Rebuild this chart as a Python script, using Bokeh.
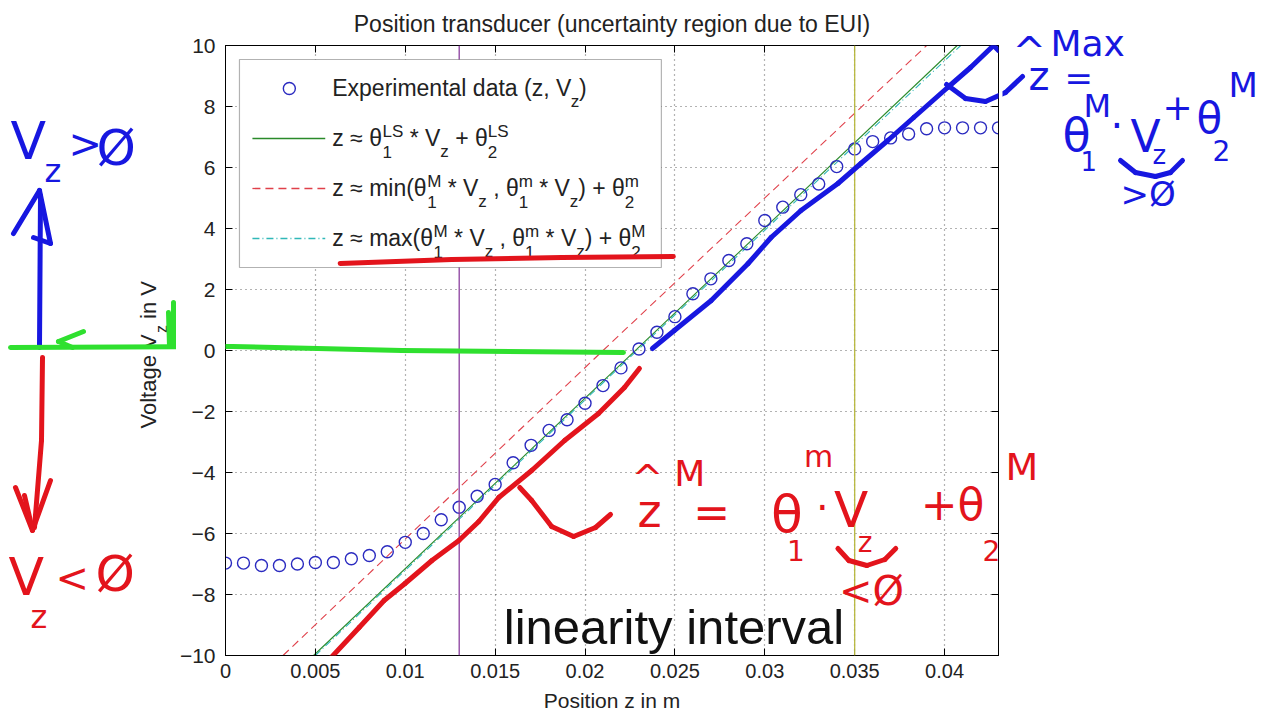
import math
from bokeh.plotting import figure
from bokeh.layouts import row
from bokeh.models import (Range1d, FixedTicker, LinearAxis, Label, Span, BoxAnnotation,
                          Arrow, ColumnDataSource, PrintfTickFormatter, CustomJSTickFormatter)
from bokeh.embed import file_html
from bokeh.resources import INLINE

# ---------------- data ----------------
z_m = [0.000, 0.001, 0.002, 0.003, 0.004, 0.005, 0.006, 0.007, 0.008, 0.009,
       0.010, 0.011, 0.012, 0.013, 0.014, 0.015, 0.016, 0.017, 0.018, 0.019,
       0.020, 0.021, 0.022, 0.023, 0.024, 0.025, 0.026, 0.027, 0.028, 0.029,
       0.030, 0.031, 0.032, 0.033, 0.034, 0.035, 0.036, 0.037, 0.038, 0.039,
       0.040, 0.041, 0.042, 0.043]
v_z = [-6.97, -6.97, -7.05, -7.05, -7.00, -6.95, -6.95, -6.83, -6.72, -6.60,
       -6.29, -6.00, -5.55, -5.14, -4.78, -4.39, -3.68, -3.11, -2.62, -2.27,
       -1.73, -1.15, -0.57, 0.05, 0.60, 1.11, 1.86, 2.35, 2.95, 3.50,
       4.26, 4.70, 5.11, 5.46, 6.03, 6.61, 6.85, 6.97, 7.10, 7.27,
       7.30, 7.30, 7.30, 7.30]

ls_fit_v = [-10, 10]
ls_fit_z = [0.0049, 0.0407]
min_fit_v = [-10, 0, 10]
min_fit_z = [0.0032, 0.0210, 0.0390]
max_fit_v = [-10, 0, 10]
max_fit_z = [0.0050, 0.0229, 0.0409]
interval_z = [0.013, 0.035]

x_ticks = [0, 0.005, 0.01, 0.015, 0.02, 0.025, 0.03, 0.035, 0.04]
y_ticks = [-10, -8, -6, -4, -2, 0, 2, 4, 6, 8, 10]

title_text = "Position transducer (uncertainty region due to EUI)"
x_label_text = "Position z in m"

# ---------------- layout ----------------
H = 716
LEFT_W = 176                 # left annotation panel: page x 0..176
MAIN_X0 = LEFT_W             # main figure starts here
PL, PR, PT, PB = 223, 998, 45, 655      # frame edges in page px
RIGHT_X0 = 1002
MAIN_W = RIGHT_X0 - MAIN_X0
RIGHT_W = 264
XMIN, XMAX, YMIN, YMAX = 0.0, 0.043, -10.0, 10.0
BASE_SHIFT = 0.37            # label baseline correction (fraction of font size)


def X(px):
    return XMIN + (px - PL) / (PR - PL) * (XMAX - XMIN)


def Y(py):
    return YMAX - (py - PT) / (PB - PT) * (YMAX - YMIN)


def ident(v):
    return v


def no_align(f):
    try:
        f.frame_align = False
    except Exception:
        pass


FONT = "Liberation Sans"
HAND = "DejaVu Sans"
CW = {' ': .278, '(': .333, ')': .333, '*': .389, '+': .584, ',': .278, '.': .278,
      'E': .667, 'L': .556, 'M': .833, 'S': .667, 'V': .667, 'a': .556, 'd': .556,
      'e': .556, 'i': .222, 'l': .222, 'm': .833, 'n': .556, 'p': .556, 'r': .333,
      't': .278, 'x': .5, 'z': .5, 'θ': .556, '≈': .584, 'g': .556, 'o': .556,
      'P': .667, 's': .5}


def tw(s, size):
    return sum(CW.get(c, 0.556) for c in s) * size


# ---------------- main figure ----------------
p = figure(width=MAIN_W, height=H, output_backend="svg", toolbar_location=None,
           x_range=Range1d(XMIN, XMAX), y_range=Range1d(YMIN, YMAX),
           min_border_left=PL - MAIN_X0, min_border_right=RIGHT_X0 - PR,
           min_border_top=PT, min_border_bottom=H - PB,
           title=title_text)
no_align(p)
p.background_fill_color = "white"
p.border_fill_color = "white"
p.outline_line_color = "black"
p.outline_line_width = 1
p.title.text_font = FONT
p.title.text_font_size = "23px"
p.title.text_font_style = "normal"
p.title.text_color = "#222222"
p.title.align = "center"
p.title.standoff = 17

xt = FixedTicker(ticks=x_ticks)
yt = FixedTicker(ticks=y_ticks)
p.xaxis.ticker = xt
p.yaxis.ticker = yt
p.xgrid.ticker = xt
p.ygrid.ticker = yt
p.xaxis.formatter = PrintfTickFormatter(format="%g")
p.xaxis.axis_label = x_label_text
p.xaxis.axis_label_text_font = FONT
p.xaxis.axis_label_text_font_size = "21px"
p.xaxis.axis_label_text_font_style = "normal"
p.xaxis.axis_label_text_color = "#222222"
p.xaxis.axis_label_standoff = 8
p.xaxis.major_label_standoff = 8
p.yaxis.major_label_standoff = 10

for ax in (p.xaxis[0], p.yaxis[0]):
    ax.major_tick_in = 7
    ax.major_tick_out = 0
    ax.minor_tick_line_color = None
    ax.axis_line_color = "black"
    ax.major_tick_line_color = "black"
    ax.major_label_text_font = FONT
    ax.major_label_text_color = "#222222"
p.xaxis.major_label_text_font_size = "20px"
p.yaxis.major_label_text_font_size = "21px"

blank = CustomJSTickFormatter(code="return ''")
for loc, tk in (("right", yt), ("above", xt)):
    ax = LinearAxis(ticker=tk, formatter=blank, major_label_standoff=0,
                    major_tick_in=7, major_tick_out=0, minor_tick_line_color=None,
                    axis_line_color="black", major_tick_line_color="black")
    p.add_layout(ax, loc)

p.grid.grid_line_color = "black"
p.grid.grid_line_alpha = 0.6
p.grid.grid_line_dash = "1 4"
p.grid.grid_line_width = 1.2

# data marks
src = ColumnDataSource(dict(z=z_m, v=v_z))
p.line(ls_fit_z, ls_fit_v, line_color="#2a8a2a", line_width=1.1)
p.line(min_fit_z, min_fit_v, line_color="#e0404a", line_width=1.1, line_dash="8 5")
p.line(max_fit_z, max_fit_v, line_color="#30b8b8", line_width=1.1, line_dash="7 3 1 3")
p.scatter("z", "v", source=src, marker="circle", size=12, fill_color=None,
          line_color="#2b2bc0", line_width=1.4)

span_colors = ["#8b3f9f", "#b8b840"]
for zloc, col in zip(interval_z, span_colors):
    p.add_layout(Span(location=zloc, dimension="height", line_color=col, line_width=1.3))

# legend box (manual, to allow sub/superscripts)
p.add_layout(BoxAnnotation(left=X(237), right=X(660), top=Y(59), bottom=Y(267),
                           fill_color="white", fill_alpha=1.0, line_color="black",
                           line_width=1.2))
p.scatter([X(287)], [Y(88)], marker="circle", size=12, fill_color="white",
          line_color="#2b2bc0", line_width=1.4, level="overlay")
p.line([X(250), X(323)], [Y(138), Y(138)], line_color="#2a8a2a", line_width=1.3, level="overlay")
p.line([X(250), X(323)], [Y(188), Y(188)], line_color="#e0404a", line_width=1.3,
       line_dash="8 5", level="overlay")
p.line([X(250), X(323)], [Y(238), Y(238)], line_color="#30b8b8", line_width=1.3,
       line_dash="7 3 1 3", level="overlay")


# ---------------- side panels for the hand-drawn notes ----------------
def side_fig(x0, w):
    f = figure(width=w, height=H, output_backend="svg", toolbar_location=None,
               x_range=Range1d(x0, x0 + w), y_range=Range1d(H, 0),
               x_axis_location=None, y_axis_location=None,
               min_border_left=0, min_border_right=0, min_border_top=0, min_border_bottom=0)
    no_align(f)
    f.outline_line_color = None
    f.background_fill_color = "white"
    f.border_fill_color = "white"
    f.grid.visible = False
    return f


left = side_fig(0, LEFT_W)
right = side_fig(RIGHT_X0, RIGHT_W)

panels = [  # (figure, page-x range, mapping x, mapping y)
    (left, 0, LEFT_W, ident, ident),
    (p, MAIN_X0, RIGHT_X0, X, Y),
    (right, RIGHT_X0, RIGHT_X0 + RIGHT_W, ident, ident),
]


def panel_for(px):
    for f, a, b, mx, my in panels:
        if a <= px < b:
            return f, mx, my
    return panels[-1][0], panels[-1][3], panels[-1][4]


def put(s, px, py, size, color, font, angle=0.0):
    lead = len(s) - len(s.lstrip())
    off = tw(s[:lead], size)
    s2 = s.strip()
    if not s2:
        return
    if angle:
        x, y = px - BASE_SHIFT * size, py - off
    else:
        x, y = px + off, py - BASE_SHIFT * size
    f, mx, my = panel_for(x)
    f.add_layout(Label(x=mx(x), y=my(y), text=s2, text_font=font,
                       text_font_size=f"{int(round(size))}px", text_color=color,
                       text_baseline="alphabetic", text_align="left", angle=angle))


def rich(px, py, tokens, size, color="#222222", font=FONT, vertical=False):
    small = round(size * 0.75)
    pos = 0.0
    for tok in tokens:
        if isinstance(tok, str):
            pieces = [(tok, 0.0, size)]
            adv = tw(tok, size)
        else:
            sub, sup = tok
            pieces = []
            if sub:
                pieces.append((sub, 0.5 * size, small))
            if sup:
                pieces.append((sup, -0.38 * size, small))
            adv = max(tw(sub, small), tw(sup, small))
        for s, dy, sz in pieces:
            if vertical:
                put(s, px + dy, py - pos, sz, color, font, angle=math.pi / 2)
            else:
                put(s, px + pos, py + dy, sz, color, font)
        pos += adv


LEG = 23
leg_lines = [
    ["Experimental data (z, V", ("z", ""), ")"],
    ["z ≈ θ", ("1", "LS"), " * V", ("z", ""), " + θ", ("2", "LS")],
    ["z ≈ min(θ", ("1", "M"), " * V", ("z", ""), " , θ", ("1", "m"), " * V", ("z", ""), ") + θ", ("2", "m")],
    ["z ≈ max(θ", ("1", "M"), " * V", ("z", ""), " , θ", ("1", "m"), " * V", ("z", ""), ") + θ", ("2", "M")],
]
leg_base = [96, 146, 196, 246]
for toks, by in zip(leg_lines, leg_base):
    rich(330, by, toks, LEG)

# y axis label with subscript (drawn in the left panel)
rich(156, 428, ["Voltage V", ("z", ""), " in V"], 22, vertical=True)

# "linearity interval" caption
put("linearity interval", 502, 645, 49, "#111111", FONT)

# hand-drawn strokes (page px), drawn in every panel and clipped by each
RED, BLUE, GREEN = "#e3141c", "#1717e0", "#2fe02f"
strokes = {
    RED: [
        [(323, 663), (328, 658), (357, 627), (382, 600), (403, 583), (430, 560), (457, 540),
         (477, 521), (497, 497), (530, 470), (563, 440), (597, 413), (623, 387), (638, 368)],
        [(518, 487), (530, 500), (550, 526), (572, 536), (594, 527), (609, 514)],
        [(338, 263), (450, 259), (560, 257), (672, 256)],
        [(42, 357), (41, 440), (34, 527)],
        [(15, 487), (32, 530), (50, 480)],
        [(24, 495), (31, 525)],
        [(837, 548), (848, 560), (866, 565), (884, 559), (895, 548)],
    ],
    BLUE: [
        [(651, 348), (673, 330), (710, 300), (747, 263), (770, 237), (800, 210), (837, 183),
         (860, 163), (887, 140), (913, 117), (947, 87), (970, 67), (993, 45), (998, 50)],
        [(946, 84), (965, 98), (985, 101), (1005, 92), (1022, 76)],
        [(39, 347), (40, 195)],
        [(13, 233), (39, 190), (50, 243), (33, 237)],
        [(1120, 160), (1135, 172), (1155, 176), (1170, 172), (1182, 160)],
    ],
    GREEN: [
        [(10, 347), (230, 346), (400, 350), (622, 352)],
        [(83, 331), (58, 341), (72, 347)],
        [(168, 312), (169, 346)],
        [(173, 302), (173, 346)],
    ],
}
for f, a, b, mx, my in panels:
    for col, polys in strokes.items():
        x0, y0, x1, y1 = [], [], [], []
        for poly in polys:
            for (u, v), (c, d) in zip(poly[:-1], poly[1:]):
                if max(u, c) < a - 5 or min(u, c) > b + 5:
                    continue
                x0.append(mx(u)); y0.append(my(v)); x1.append(mx(c)); y1.append(my(d))
        if not x0:
            continue
        seg = ColumnDataSource(dict(x0=x0, y0=y0, x1=x1, y1=y1))
        f.add_layout(Arrow(end=None, source=seg, x_start="x0", y_start="y0", x_end="x1",
                           y_end="y1", line_color=col, line_width=5, line_cap="round",
                           line_join="round"))

hand_text = [
    # blue, top-left
    ("V", 10, 160, 52, BLUE), ("z", 44, 182, 32, BLUE), (">", 68, 158, 40, BLUE),
    ("Ø", 96, 166, 50, BLUE),
    # red, bottom-left
    ("V", 8, 596, 52, RED), ("z", 30, 628, 32, RED), ("<", 55, 592, 40, RED),
    ("Ø", 95, 592, 50, RED),
    # blue formula, top-right
    ("^", 1012, 66, 40, BLUE), ("Max", 1050, 56, 36, BLUE), ("z", 1028, 90, 40, BLUE),
    ("=", 1064, 90, 34, BLUE), ("M", 1083, 117, 32, BLUE), ("θ", 1062, 152, 46, BLUE),
    ("1", 1080, 170, 26, BLUE), ("·", 1110, 140, 40, BLUE), ("V", 1130, 152, 44, BLUE),
    ("z", 1152, 164, 26, BLUE), ("+", 1162, 120, 36, BLUE), ("θ", 1196, 134, 42, BLUE),
    ("M", 1228, 97, 34, BLUE), ("2", 1212, 160, 28, BLUE), (">Ø", 1120, 206, 34, BLUE),
    # red formula, lower-right
    ("^", 630, 492, 38, RED), ("M", 673, 486, 36, RED), ("z", 636, 528, 46, RED),
    ("=", 692, 528, 44, RED), ("m", 803, 467, 30, RED), ("θ", 770, 533, 52, RED),
    ("1", 786, 560, 28, RED), ("·", 815, 522, 40, RED), ("V", 833, 528, 50, RED),
    ("z", 857, 552, 28, RED), ("<Ø", 838, 605, 40, RED), ("+θ", 920, 520, 44, RED),
    ("M", 1005, 481, 38, RED), ("2", 982, 560, 28, RED),
]
for s, px, py, sz, col in hand_text:
    put(s, px, py, sz, col, HAND)

layout = row(left, p, right)
open("out.html", "w").write(file_html(layout, INLINE))
